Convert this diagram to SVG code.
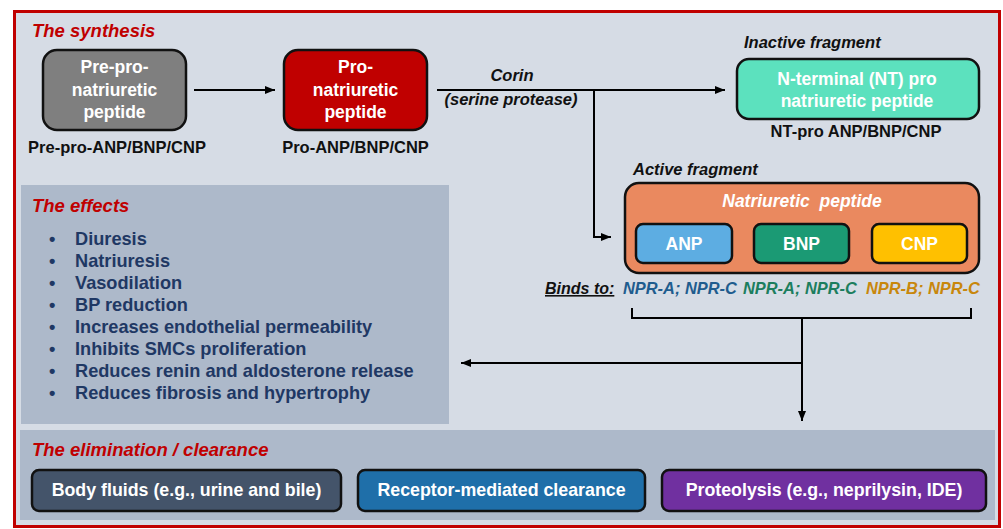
<svg xmlns="http://www.w3.org/2000/svg" width="1003" height="529" viewBox="0 0 1003 529">
<defs>
<marker id="ah" markerWidth="10" markerHeight="8" refX="10" refY="4" orient="auto" markerUnits="userSpaceOnUse">
<path d="M0,0 L10,4 L0,8 Z" fill="#000"/>
</marker>
<style>
text{font-family:"Liberation Sans",Arial,sans-serif;font-weight:bold}
.sec{fill:#C00000;font-style:italic;font-size:18.5px}
.wt{fill:#fff;font-size:17.5px;text-anchor:middle}
.bk{fill:#111;font-size:16.5px;text-anchor:middle}
.it{fill:#111;font-style:italic;font-size:16.5px}
.box{stroke:#111;stroke-width:2.5}
.ef{fill:#1F3864;font-size:18.2px}
.ln{stroke:#000;stroke-width:2;fill:none}
.np{font-style:italic;font-size:16.4px}
.el{fill:#fff;font-size:17.8px;text-anchor:middle}
</style>
</defs>
<rect x="14.5" y="11.5" width="985" height="515" fill="#D6DCE5" stroke="#C00000" stroke-width="3"/>
<rect x="21" y="185" width="428" height="239" fill="#ADB9CA"/>
<rect x="20" y="430" width="975" height="90" fill="#ADB9CA"/>

<text class="sec" x="32" y="37">The synthesis</text>
<text class="sec" x="32" y="212">The effects</text>
<text class="sec" x="32" y="456">The elimination / clearance</text>

<g id="prepro">
<rect class="box" x="43" y="50" width="143" height="80" rx="14" fill="#7F7F7F"/>
<text class="wt" x="114.5" y="73">Pre-pro-</text>
<text class="wt" x="114.5" y="96">natriuretic</text>
<text class="wt" x="114.5" y="118">peptide</text>
<text class="bk" x="117" y="153">Pre-pro-ANP/BNP/CNP</text>
</g>
<g id="pro">
<rect class="box" x="284" y="50" width="143" height="80" rx="14" fill="#C00000"/>
<text class="wt" x="355.5" y="73">Pro-</text>
<text class="wt" x="355.5" y="96">natriuretic</text>
<text class="wt" x="355.5" y="118">peptide</text>
<text class="bk" x="355.5" y="153">Pro-ANP/BNP/CNP</text>
</g>
<g id="nt">
<text class="it" x="744" y="48">Inactive fragment</text>
<rect class="box" x="737" y="59" width="242" height="60" rx="12" fill="#5CE1BE"/>
<text class="wt" x="857" y="85" font-size="18.2px">N-terminal (NT) pro</text>
<text class="wt" x="857" y="107" font-size="18.2px">natriuretic peptide</text>
<text class="bk" x="856" y="137">NT-pro ANP/BNP/CNP</text>
</g>
<g id="np">
<text class="it" x="633" y="175">Active fragment</text>
<rect class="box" x="625" y="183" width="354" height="90" rx="14" fill="#EA895F"/>
<text class="wt" x="802" y="207" font-style="italic" font-size="18.5px" xml:space="preserve">Natriuretic  peptide</text>
</g>
<g id="anp">
<rect class="box" x="636" y="224" width="96" height="39" rx="7" fill="#5DADE2"/>
<text class="wt" x="684" y="250" font-size="18px">ANP</text>
</g>
<g id="bnp">
<rect class="box" x="754" y="224" width="95" height="39" rx="7" fill="#1B9A74"/>
<text class="wt" x="801.5" y="250" font-size="18px">BNP</text>
</g>
<g id="cnp">
<rect class="box" x="872" y="224" width="95" height="39" rx="7" fill="#FFC000"/>
<text class="wt" x="919.5" y="250" font-size="18px">CNP</text>
</g>
<g id="binds">
<text x="545" y="294" fill="#111" font-style="italic" font-size="16px" text-decoration="underline">Binds to:</text>
<text class="np" x="623" y="294" fill="#1F5C8E">NPR-A; NPR-C</text>
<text class="np" x="743" y="294" fill="#1C7E5E">NPR-A; NPR-C</text>
<text class="np" x="866" y="294" fill="#C8870C">NPR-B; NPR-C</text>
</g>
<g id="effects">
<g class="ef">
<text x="49" y="245">•</text><text x="75" y="245">Diuresis</text>
<text x="49" y="267">•</text><text x="75" y="267">Natriuresis</text>
<text x="49" y="289">•</text><text x="75" y="289">Vasodilation</text>
<text x="49" y="311">•</text><text x="75" y="311">BP reduction</text>
<text x="49" y="333">•</text><text x="75" y="333">Increases endothelial permeability</text>
<text x="49" y="355">•</text><text x="75" y="355">Inhibits SMCs proliferation</text>
<text x="49" y="377">•</text><text x="75" y="377">Reduces renin and aldosterone release</text>
<text x="49" y="399">•</text><text x="75" y="399">Reduces fibrosis and hypertrophy</text>
</g>
</g>
<g id="body">
<rect class="box" x="32" y="470" width="309" height="41" rx="7" fill="#44546A"/>
<text class="el" x="186.5" y="496">Body fluids (e.g., urine and bile)</text>
</g>
<g id="receptor">
<rect class="box" x="358" y="470" width="287" height="41" rx="7" fill="#1F6FA9"/>
<text class="el" x="501.5" y="496">Receptor-mediated clearance</text>
</g>
<g id="proteolysis">
<rect class="box" x="662" y="470" width="324" height="41" rx="7" fill="#7030A0"/>
<text class="el" x="824" y="496">Proteolysis (e.g., neprilysin, IDE)</text>
</g>

<g id="connectors">
<line class="ln" x1="194" y1="90" x2="275" y2="90" marker-end="url(#ah)"/>
<line class="ln" x1="437" y1="90" x2="725" y2="90" marker-end="url(#ah)"/>
<polyline class="ln" points="594,90 594,237 611,237" marker-end="url(#ah)"/>
<polyline class="ln" points="632,308 632,318 971,318 971,308"/>
<line class="ln" x1="802" y1="318" x2="802" y2="421" marker-end="url(#ah)"/>
<line class="ln" x1="802" y1="363" x2="461" y2="363" marker-end="url(#ah)"/>
</g>
<g id="labels">
<text class="it" x="512" y="81" text-anchor="middle">Corin</text>
<text class="it" x="511" y="105" text-anchor="middle">(serine protease)</text>
</g>
</svg>
